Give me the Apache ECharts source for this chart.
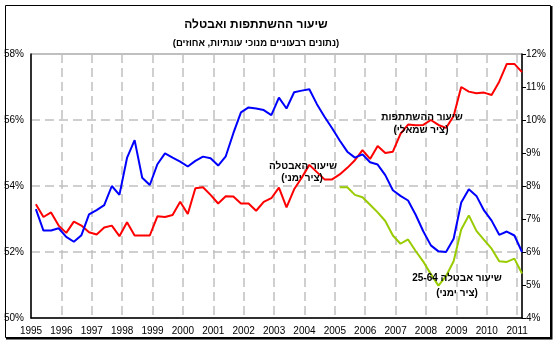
<!DOCTYPE html>
<html>
<head>
<meta charset="utf-8">
<script src="https://cdn.jsdelivr.net/npm/echarts@6/dist/echarts.min.js"></script>
<style>
  html, body { margin: 0; padding: 0; background: #ffffff; }
  #chart { width: 558px; height: 343px; }
</style>
</head>
<body>
<div id="chart"></div>
<script>
// Quarterly, seasonally adjusted series, 1995Q1 - 2011Q1 (percent)
const firstYear = 1995;
const lastYear = 2011;

// Participation rate (left axis)
const participation = [
  53.45, 53.06, 53.20, 52.80,
  52.58, 52.92, 52.80, 52.60,
  52.53, 52.74, 52.80, 52.48,
  52.90, 52.50, 52.50, 52.50,
  53.08, 53.06, 53.12, 53.52,
  53.15, 53.93, 53.96, 53.73,
  53.47, 53.69, 53.68, 53.47,
  53.47, 53.25, 53.52, 53.63,
  53.95, 53.35, 53.90, 54.25,
  54.64, 54.42, 54.20, 54.20,
  54.35, 54.55, 54.78, 55.09,
  54.82, 55.21, 55.00, 55.04,
  55.58, 55.86, 55.84, 55.85,
  56.00, 55.85, 55.76, 56.12,
  57.00, 56.86, 56.81, 56.83,
  56.76, 57.16, 57.70, 57.70,
  57.45
];

// Unemployment rate (right axis)
const unemployment = [
  7.30, 6.65, 6.65, 6.72,
  6.46, 6.31, 6.51, 7.14,
  7.27, 7.42, 8.00, 7.73,
  8.85, 9.39, 8.25, 8.03,
  8.66, 8.99, 8.86, 8.74,
  8.59, 8.76, 8.89, 8.84,
  8.62, 8.90, 9.60, 10.23,
  10.38, 10.35, 10.30, 10.15,
  10.68, 10.35, 10.84, 10.89,
  10.93, 10.48, 10.10, 9.75,
  9.38, 9.04, 8.86, 8.96,
  8.72, 8.65, 8.33, 7.87,
  7.70, 7.56, 7.13, 6.63,
  6.20, 6.02, 6.00, 6.40,
  7.50, 7.90, 7.70, 7.26,
  6.95, 6.52, 6.62, 6.50,
  6.00
];

// Unemployment rate, ages 25-64 (right axis), available from 2005Q1
const unemployment2564Start = 2005;
const unemployment2564 = [
  7.96, 7.96, 7.73, 7.66,
  7.43, 7.20, 6.94, 6.50,
  6.25, 6.38, 6.03, 5.71,
  5.33, 4.98, 5.27, 5.72,
  6.68, 7.11, 6.64, 6.37,
  6.10, 5.72, 5.70, 5.80,
  5.35
];

const leftTicks = [50, 52, 54, 56, 58];
const rightTicks = [4, 5, 6, 7, 8, 9, 10, 11, 12];

// Hebrew strings are wrapped in a right-to-left embedding
const rtl = s => '\u202B' + s + '\u202C';
const titleText = 'שיעור ההשתתפות ואבטלה';
const subtitleText = '(נתונים רבעוניים מנוכי עונתיות, אחוזים)';
const labelParticipation = ['שיעור ההשתתפות', '(ציר שמאלי)'];
const labelUnemployment = ['שיעור האבטלה', '(ציר ימני)'];
const labelUnemployment2564 = ['שיעור אבטלה 25-64', '(ציר ימני)'];

// A quarter's point sits just inside its year slot
const QUARTER_SHIFT = 0.16;
const quarterPos = (year, q) => year + q / 4 + QUARTER_SHIFT;
const toPoints = (values, year) => values.map((v, i) => [quarterPos(year, i), v]);

const xMax = quarterPos(firstYear, participation.length - 1);

const font = 'Arial, "Liberation Sans", "DejaVu Sans", sans-serif';
const gridDash = [9, 5];

const chart = echarts.init(document.getElementById('chart'), null, { renderer: 'canvas' });

function textEl(str, x, y, size) {
  return {
    type: 'text', x: x, y: y, z: 100,
    style: {
      text: rtl(str), fill: '#000000',
      font: 'bold ' + size + 'px ' + font,
      align: 'center', verticalAlign: 'middle'
    }
  };
}

chart.setOption({
  animation: false,
  backgroundColor: '#ffffff',
  grid: {
    left: 31, right: 36, top: 54, bottom: 25,
    outerBoundsMode: 'none',
    show: true, borderColor: '#808080', borderWidth: 1, backgroundColor: 'transparent'
  },
  xAxis: {
    type: 'value',
    min: firstYear, max: xMax, interval: 1,
    axisLine: { show: true, lineStyle: { color: '#000000', width: 1.5 } },
    axisTick: { show: false },
    axisLabel: {
      color: '#000000', fontFamily: font, fontSize: 10, margin: 8,
      showMaxLabel: false,
      formatter: v => (Number.isInteger(v) && v <= lastYear) ? String(v) : ''
    },
    splitLine: { show: true, lineStyle: { color: '#C0C0C0', width: 1.5, type: gridDash } }
  },
  yAxis: [
    {
      type: 'value', position: 'left',
      min: leftTicks[0], max: leftTicks[leftTicks.length - 1], interval: 2,
      axisLine: { show: true, lineStyle: { color: '#000000', width: 1.5 } },
      axisTick: { show: false },
      axisLabel: { color: '#000000', fontFamily: font, fontSize: 10, margin: 7, formatter: '{value}%' },
      splitLine: { show: true, lineStyle: { color: '#C0C0C0', width: 1.5, type: gridDash } }
    },
    {
      type: 'value', position: 'right',
      min: rightTicks[0], max: rightTicks[rightTicks.length - 1], interval: 1,
      axisLine: { show: true, lineStyle: { color: '#000000', width: 1.5 } },
      axisTick: { show: true, inside: false, length: 4, lineStyle: { color: '#000000' } },
      axisLabel: { color: '#000000', fontFamily: font, fontSize: 10, margin: 4, formatter: '{value}%' },
      splitLine: { show: false }
    }
  ],
  series: [
    {
      name: 'participation', type: 'line', yAxisIndex: 0,
      data: toPoints(participation, firstYear),
      showSymbol: false, lineStyle: { color: '#FF0000', width: 2 }, z: 3
    },
    {
      name: 'unemployment', type: 'line', yAxisIndex: 1,
      data: toPoints(unemployment, firstYear),
      showSymbol: false, lineStyle: { color: '#0000FF', width: 2 }, z: 4
    },
    {
      name: 'unemployment2564', type: 'line', yAxisIndex: 1,
      data: toPoints(unemployment2564, unemployment2564Start),
      showSymbol: false, lineStyle: { color: '#99CC00', width: 2 }, z: 5
    }
  ],
  graphic: [
    // chart frame with a heavier right and bottom edge
    { type: 'rect', z: 50, shape: { x: 5.5, y: 5.5, width: 545, height: 332 },
      style: { fill: 'none', stroke: '#000000', lineWidth: 1 } },
    { type: 'polyline', z: 50, shape: { points: [[551.5, 6], [551.5, 338.5], [6, 338.5]] },
      style: { fill: 'none', stroke: '#000000', lineWidth: 2 } },
    textEl(titleText, 256, 25, 12),
    textEl(subtitleText, 256, 43, 9.5),
    textEl(labelParticipation[0], 422, 117, 10),
    textEl(labelParticipation[1], 421, 130, 10),
    textEl(labelUnemployment[0], 303, 166, 10),
    textEl(labelUnemployment[1], 302, 178, 10),
    textEl(labelUnemployment2564[0], 457, 278, 10),
    textEl(labelUnemployment2564[1], 457, 293, 10)
  ]
});
</script>
</body>
</html>
